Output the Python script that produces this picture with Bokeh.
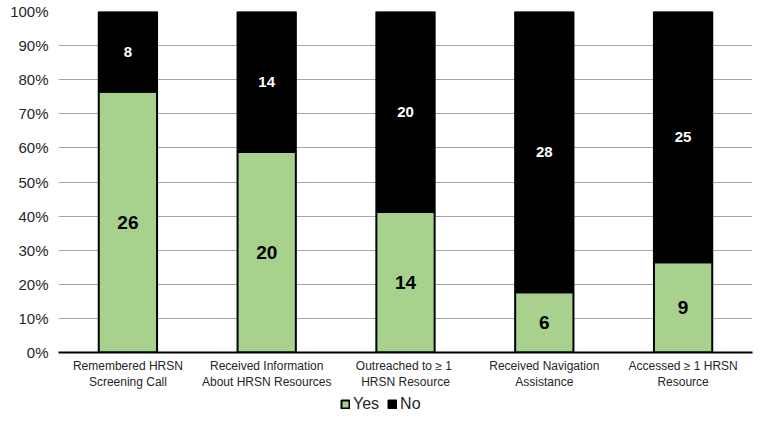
from bokeh.plotting import figure
from bokeh.models import ColumnDataSource, Legend, LegendItem, FixedTicker, Range1d, FactorRange
from bokeh.layouts import column
from bokeh.core.properties import value
from bokeh.embed import file_html
from bokeh.resources import INLINE

categories = ["Remembered HRSN\nScreening Call",
              "Received Information\nAbout HRSN Resources",
              "Outreached to  \u2265 1\nHRSN Resource",
              "Received Navigation\nAssistance",
              "Accessed \u2265 1 HRSN\nResource"]
yes_counts = [26, 20, 14, 6, 9]
no_counts = [8, 14, 20, 28, 25]
series_names = ["Yes", "No"]
y_ticks = [0, 10, 20, 30, 40, 50, 60, 70, 80, 90, 100]

GREEN = "#a9d18e"
FONT = "Liberation Sans"
W = 757
LEG_H = 22

yes_pct = [y / (y + n) * 100 for y, n in zip(yes_counts, no_counts)]
src = ColumnDataSource(dict(
    x=categories,
    yes=yes_pct,
    top=[100] * len(categories),
    yes_mid=[v / 2 for v in yes_pct],
    no_mid=[(v + 100) / 2 for v in yes_pct],
    yes_lbl=[str(v) for v in yes_counts],
    no_lbl=[str(v) for v in no_counts],
))

p = figure(width=W, height=414 - LEG_H, x_range=FactorRange(*categories), y_range=Range1d(0, 100),
           output_backend="svg", toolbar_location=None,
           min_border_left=58, min_border_right=5, min_border_top=11, min_border_bottom=34)
p.outline_line_color = None
p.background_fill_color = "white"

p.vbar(x="x", bottom=0, top="yes", width=0.42, source=src,
       fill_color=GREEN, line_color="black", line_width=2)
p.vbar(x="x", bottom="yes", top="top", width=0.42, source=src,
       fill_color="black", line_color="black", line_width=2)

p.text(x="x", y="yes_mid", text="yes_lbl", source=src, text_align="center", text_baseline="middle",
       text_font=value(FONT), text_font_size="19px", text_font_style="bold", text_color="black")
p.text(x="x", y="no_mid", text="no_lbl", source=src, text_align="center", text_baseline="middle",
       text_font=value(FONT), text_font_size="15px", text_font_style="bold", text_color="white")

p.yaxis.ticker = FixedTicker(ticks=y_ticks)
p.yaxis.major_label_overrides = {t: f"{t}%" for t in y_ticks}
p.yaxis.axis_line_color = None
p.yaxis.major_tick_line_color = None
p.yaxis.major_tick_out = 0
p.yaxis.minor_tick_line_color = None
p.yaxis.major_label_text_font = FONT
p.yaxis.major_label_text_font_size = "15px"
p.yaxis.major_label_text_color = "#262626"
p.yaxis.major_label_standoff = 10

p.xaxis.axis_line_color = "black"
p.xaxis.axis_line_width = 2
p.xaxis.major_tick_line_color = None
p.xaxis.major_tick_out = 0
p.xaxis.minor_tick_line_color = None
p.xaxis.major_label_text_font = FONT
p.xaxis.major_label_text_font_size = "12px"
p.xaxis.major_label_text_color = "#262626"
p.xaxis.major_label_standoff = 6

p.xgrid.grid_line_color = None
p.ygrid.grid_line_color = "#a6a6a6"
p.ygrid.grid_line_width = 1
p.ygrid.ticker = FixedTicker(ticks=y_ticks)

# legend strip: same series with zero-width bars in a view range that excludes them,
# so only the legend handles show
lg = figure(width=W, height=LEG_H, x_range=FactorRange(*categories), y_range=Range1d(130, 131),
            x_axis_location=None, y_axis_location=None,
            output_backend="svg", toolbar_location=None,
            min_border_left=0, min_border_right=0, min_border_top=0, min_border_bottom=0)
lg.grid.visible = False
lg.outline_line_color = None
r1 = lg.vbar(x="x", bottom=0, top="yes", width=0, source=src,
             fill_color=GREEN, line_color="black", line_width=2)
r2 = lg.vbar(x="x", bottom="yes", top="top", width=0, source=src,
             fill_color="black", line_color="black", line_width=2)
legend = Legend(items=[LegendItem(label=series_names[0], renderers=[r1]),
                       LegendItem(label=series_names[1], renderers=[r2])],
                orientation="horizontal", location=(282, 1),
                border_line_color=None, background_fill_alpha=0,
                label_text_font=FONT, label_text_font_size="16px", label_text_color="#262626",
                label_height=16,
                glyph_width=10, glyph_height=10, spacing=8, padding=2, margin=0,
                label_standoff=3)
lg.add_layout(legend, "center")

open("out.html", "w").write(file_html(column(p, lg, spacing=0), INLINE))
